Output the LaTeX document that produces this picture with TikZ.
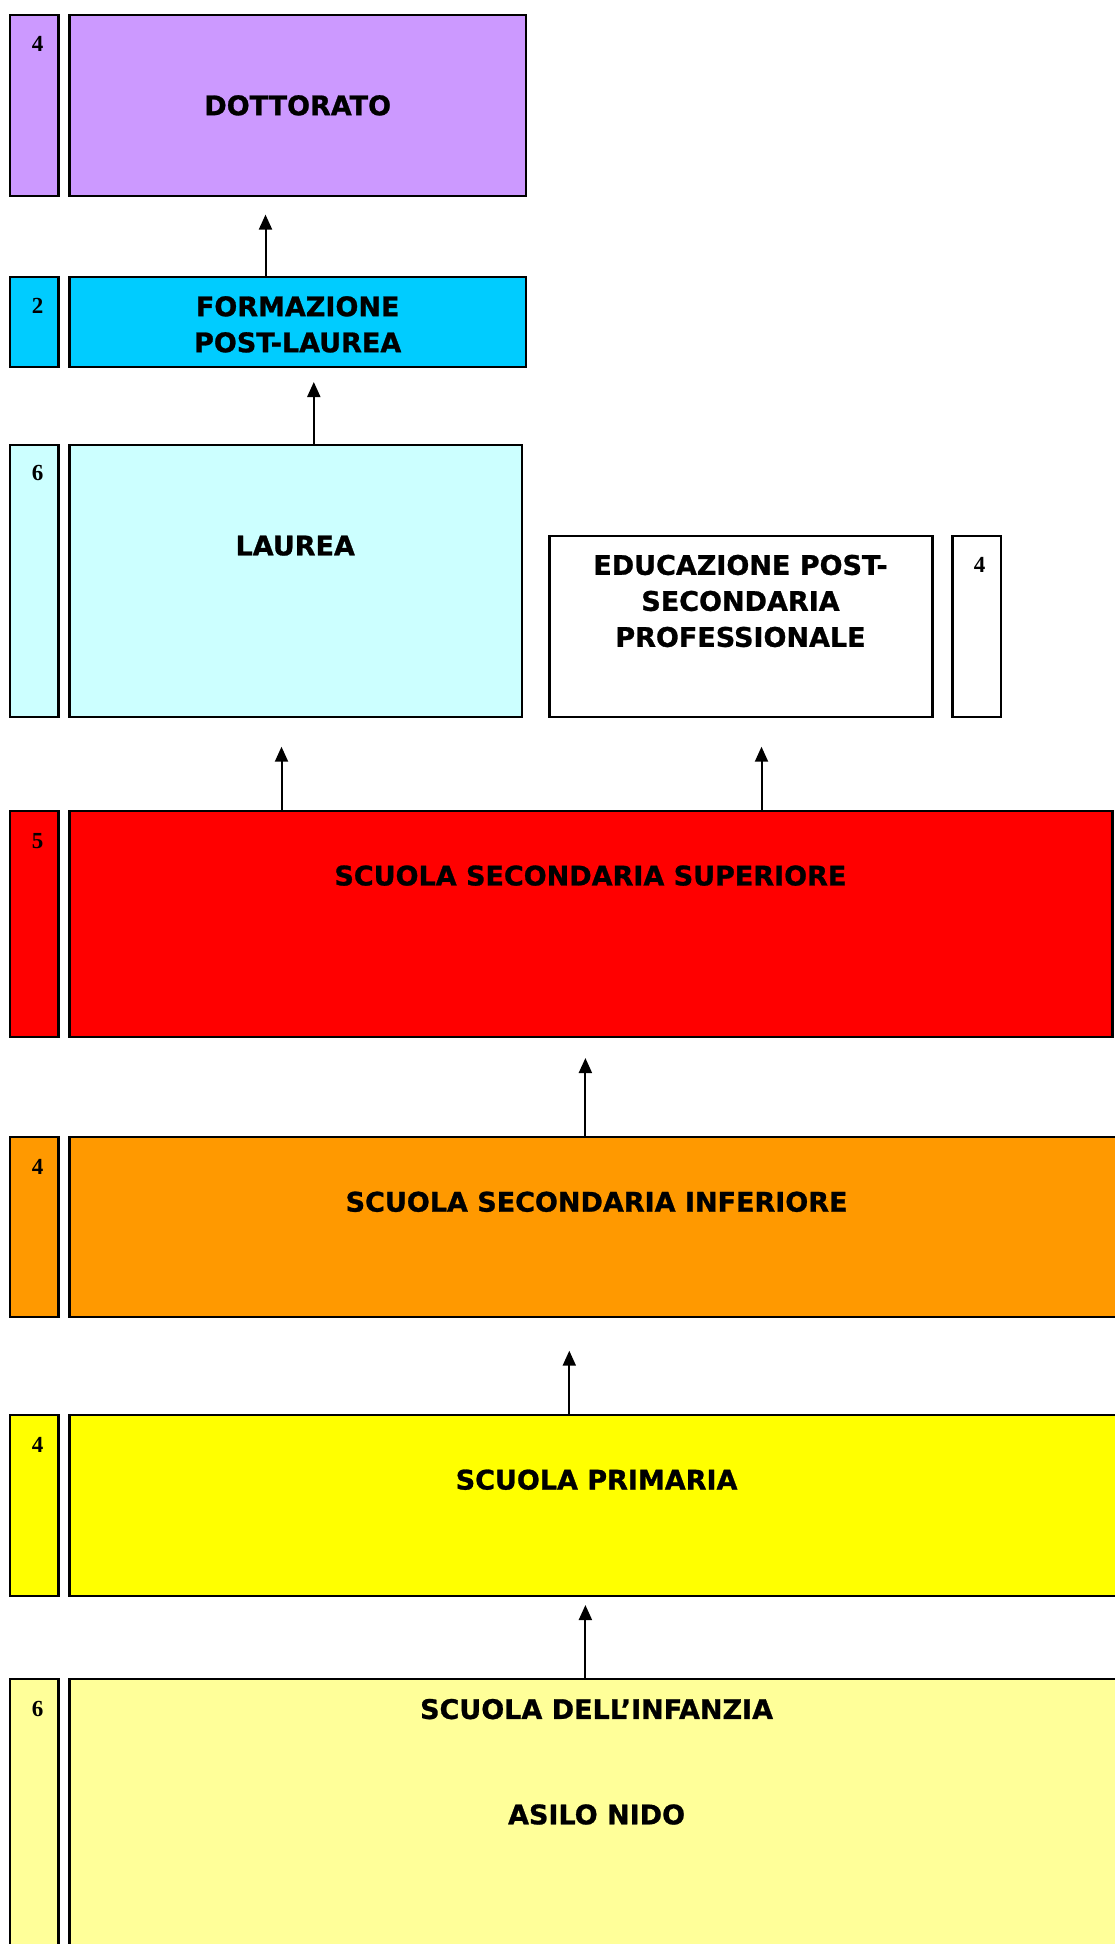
\documentclass[tikz,border=0pt]{standalone}
\usepackage{fontspec}
\setmainfont{DejaVu Sans}[BoldFeatures={FakeBold=1}]
\newfontfamily\numfont{Liberation Serif}
\usetikzlibrary{arrows.meta}
\definecolor{cdot}{HTML}{CC99FF}
\definecolor{cform}{HTML}{00CCFF}
\definecolor{clau}{HTML}{CCFFFF}
\definecolor{csss}{HTML}{FF0000}
\definecolor{cssi}{HTML}{FF9900}
\definecolor{cpri}{HTML}{FFFF00}
\definecolor{cinf}{HTML}{FFFF99}
\tikzset{
  box/.style={draw=black, line width=2.2pt, inner sep=0pt, outer sep=0pt, anchor=north west},
  num/.style={font=\numfont\bfseries\fontsize{23}{23}\selectfont, inner sep=0pt},
  lbl/.style={font=\bfseries\fontsize{27}{36}\selectfont, align=center, inner sep=0pt},
  arr/.style={-{Triangle[length=15pt,width=13pt]}, line width=2pt}
}
\newcommand\mybox[6]{\node[box, fill=#2, minimum width={#5pt-#3pt}, minimum height={#6pt-#4pt}] (#1) at (#3,#4) {};}
\begin{document}
\begin{tikzpicture}[x=1pt,y=-1pt]
\useasboundingbox (0,0) rectangle (1115,1944);
\clip (0,0) rectangle (1115,1944);
% boxes
\mybox{dotN}{cdot}{10}{15}{58.5}{196}
\mybox{dot}{cdot}{69.5}{15}{526}{196}
\mybox{formN}{cform}{10}{276.6}{58.5}{367}
\mybox{form}{cform}{69.5}{276.6}{526}{367}
\mybox{lauN}{clau}{10}{445}{58.5}{717}
\mybox{lau}{clau}{69.5}{445}{522}{717}
\mybox{edu}{white}{549.5}{536}{932.5}{717}
\mybox{eduN}{white}{952.5}{536}{1001}{717}
\mybox{sssN}{csss}{10}{811}{58.5}{1037}
\mybox{sss}{csss}{69.5}{811}{1112.5}{1037}
\mybox{ssiN}{cssi}{10}{1137}{58.5}{1317}
\mybox{ssi}{cssi}{69.5}{1137}{1124}{1317}
\mybox{priN}{cpri}{10}{1415}{58.5}{1596}
\mybox{pri}{cpri}{69.5}{1415}{1124}{1596}
\mybox{infN}{cinf}{10}{1679}{58.5}{1965}
\mybox{inf}{cinf}{69.5}{1679}{1124}{1965}
% numbers
\node[num] (n1) at (37.5,43.8) {4};
\node[num] (n2) at (37.5,305.4) {2};
\node[num] (n3) at (37.5,472.8) {6};
\node[num] (n4) at (979.5,564.5) {4};
\node[num] (n5) at (37.5,841.2) {5};
\node[num] (n6) at (37.5,1167.4) {4};
\node[num] (n7) at (37.5,1445.2) {4};
\node[num] (n8) at (37.5,1709.4) {6};
% labels
\node[lbl] (dotT) at (297.7,105.4) {DOTTORATO};
\node[lbl] (formT) at (297.7,324.4) {FORMAZIONE\\POST-LAUREA};
\node[lbl] (lauT) at (295.2,545.7) {LAUREA};
\node[lbl] (eduT) at (740.5,601) {EDUCAZIONE POST-\\SECONDARIA\\PROFESSIONALE};
\node[lbl] (sssT) at (590.4,875.6) {SCUOLA SECONDARIA SUPERIORE};
\node[lbl] (ssiT) at (596.6,1201.8) {SCUOLA SECONDARIA INFERIORE};
\node[lbl] (priT) at (596.6,1479.7) {SCUOLA PRIMARIA};
\node[lbl] (infT) at (596.6,1709.1) {SCUOLA DELL’INFANZIA};
\node[lbl] (asiT) at (596.6,1814.5) {ASILO NIDO};
% arrows
\coordinate (t1) at (265.5,214.6);
\coordinate (t2) at (313.8,382);
\coordinate (t3) at (281.5,746.7);
\coordinate (t4) at (761.5,746.7);
\coordinate (t5) at (585.4,1058);
\coordinate (t6) at (569.3,1350.7);
\coordinate (t7) at (585.4,1605);
\draw[arr] (form.north -| t1) -- (t1);
\draw[arr] (lau.north -| t2) -- (t2);
\draw[arr] (sss.north -| t3) -- (t3);
\draw[arr] (sss.north -| t4) -- (t4);
\draw[arr] (ssi.north -| t5) -- (t5);
\draw[arr] (pri.north -| t6) -- (t6);
\draw[arr] (inf.north -| t7) -- (t7);
\end{tikzpicture}
\end{document}
